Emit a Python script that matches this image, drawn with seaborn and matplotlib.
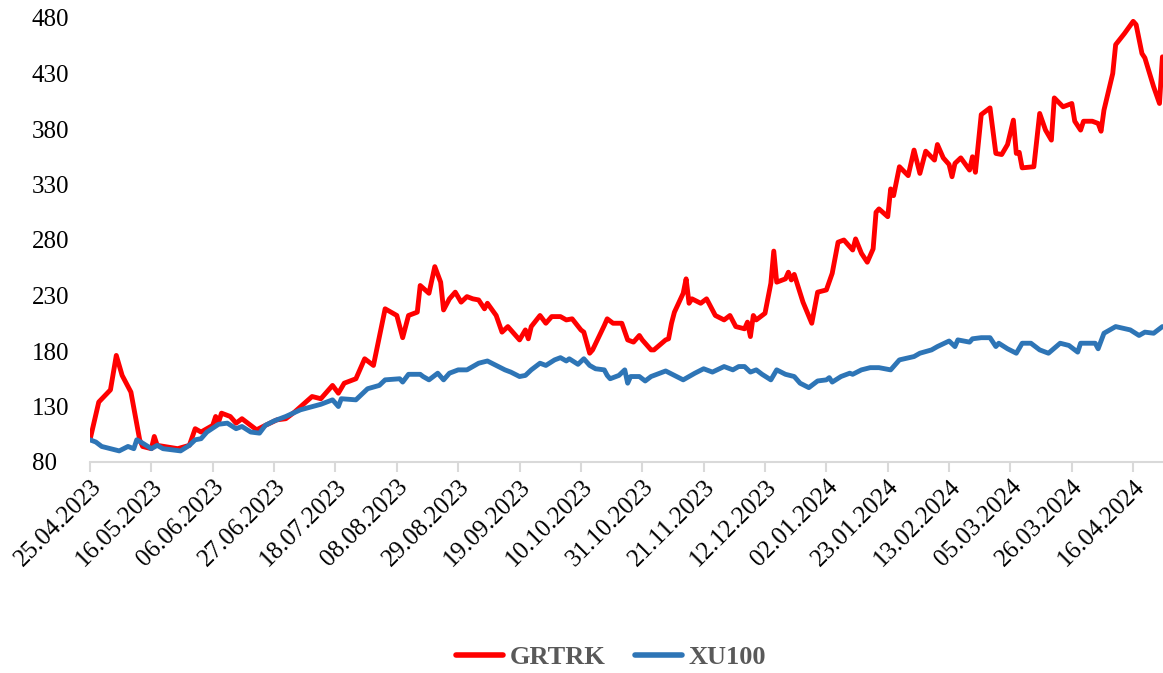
import pandas as pd
import matplotlib.pyplot as plt
import matplotlib.dates as mdates
import seaborn as sns

# --- Data (index, 25.04.2023 = 100) ---
START_DATE = '2023-04-25'

# day offsets from START_DATE and index values
GRTRK_DAYS = [0, 3, 7, 9, 11, 14, 17, 18, 21, 22, 23, 30, 34, 36, 38, 42, 43, 44, 45, 48,
              50, 52, 54, 57, 60, 64, 67, 70, 76, 79, 83, 85, 87, 91, 94, 97, 101, 105, 107, 109,
              112, 113, 116, 118, 120, 121, 123, 125, 127, 129, 131, 133, 135, 136, 139, 141, 143, 145, 147, 149,
              150, 151, 154, 156, 158, 161, 163, 165, 168, 169, 171, 172, 176, 177, 179, 182, 184, 186, 188, 189,
              192, 193, 197, 198, 199, 200, 203, 204, 205, 206, 209, 211, 214, 217, 219, 221, 224, 225, 226, 227,
              228, 231, 233, 234, 235, 238, 239, 240, 241, 244, 247, 249, 252, 254, 256, 258, 261, 262, 264, 266,
              268, 269, 270, 273, 274, 275, 277, 280, 282, 284, 286, 289, 290, 292, 294, 295, 296, 298, 301, 302,
              303, 305, 308, 310, 312, 314, 316, 317, 318, 319, 323, 325, 327, 329, 330, 333, 336, 337, 339, 340,
              343, 345, 346, 347, 350, 351, 354, 357, 358, 360, 361, 364, 366, 367]
GRTRK_VALUES = [100, 134, 145, 176, 158, 143, 100, 94, 92, 103, 95, 92, 95, 110, 107, 113, 121, 116, 124, 121,
                115, 119, 115, 109, 113, 118, 119, 125, 139, 137, 149, 142, 151, 155, 173, 167, 218, 212, 192, 212,
                215, 239, 232, 256, 242, 217, 227, 233, 224, 229, 227, 226, 218, 223, 212, 197, 202, 196, 190, 199,
                191, 202, 212, 205, 211, 211, 208, 209, 199, 197, 178, 181, 203, 209, 205, 205, 190, 188, 194, 190,
                181, 181, 190, 191, 205, 215, 232, 245, 223, 227, 223, 227, 212, 208, 212, 202, 200, 206, 193, 212,
                208, 214, 241, 270, 242, 245, 251, 244, 249, 224, 205, 233, 235, 250, 278, 280, 271, 281, 268, 260,
                272, 305, 308, 301, 326, 320, 346, 338, 361, 340, 360, 352, 366, 354, 348, 337, 349, 354, 343, 355,
                341, 393, 399, 358, 357, 366, 388, 358, 359, 345, 346, 394, 379, 370, 408, 400, 403, 387, 379, 387,
                387, 385, 378, 397, 430, 456, 466, 477, 474, 448, 444, 418, 403, 445]

XU100_DAYS = [0, 2, 4, 7, 10, 13, 15, 16, 18, 21, 23, 25, 28, 31, 34, 36, 38, 40, 44, 47,
              50, 52, 55, 58, 60, 63, 67, 72, 79, 83, 85, 86, 91, 95, 99, 101, 106, 107, 109, 113,
              114, 116, 119, 121, 123, 126, 129, 133, 136, 139, 142, 144, 147, 149, 151, 154, 156, 159, 161, 163,
              164, 167, 169, 171, 173, 176, 177, 178, 181, 183, 184, 185, 188, 190, 192, 196, 197, 200, 203, 207,
              210, 213, 217, 220, 222, 224, 226, 228, 230, 233, 235, 238, 241, 243, 246, 249, 252, 253, 254, 257,
              260, 261, 264, 267, 270, 274, 277, 282, 284, 288, 290, 294, 296, 297, 301, 302, 305, 308, 310, 311,
              314, 317, 319, 322, 325, 328, 332, 335, 338, 339, 344, 345, 347, 351, 356, 359, 361, 364, 367]
XU100_VALUES = [100, 98, 94, 92, 90, 94, 92, 100, 97, 92, 95, 92, 91, 90, 95, 100, 101, 107, 114, 115,
                110, 112, 107, 106, 113, 117, 121, 127, 132, 136, 130, 137, 136, 146, 149, 154, 155, 152, 159, 159,
                157, 154, 160, 154, 160, 163, 163, 169, 171, 167, 163, 161, 157, 158, 163, 169, 167, 172, 174, 171,
                173, 168, 173, 167, 164, 163, 158, 155, 158, 163, 151, 157, 157, 153, 157, 161, 162, 158, 154, 160,
                164, 161, 166, 163, 166, 166, 161, 163, 159, 154, 163, 159, 157, 151, 147, 153, 154, 156, 152, 157,
                160, 159, 163, 165, 165, 163, 172, 175, 178, 181, 184, 189, 184, 190, 188, 191, 192, 192, 184, 187,
                182, 178, 187, 187, 181, 178, 187, 185, 179, 187, 187, 182, 196, 202, 199, 194, 197, 196, 202]

SERIES_NAMES = ['GRTRK', 'XU100']
SERIES_COLORS = ['#FF0000', '#2E75B6']
Y_TICKS = [80, 130, 180, 230, 280, 330, 380, 430, 480]

# --- Build long-form table ---
start = pd.Timestamp(START_DATE)
frames = []
for name, days, vals in [('GRTRK', GRTRK_DAYS, GRTRK_VALUES), ('XU100', XU100_DAYS, XU100_VALUES)]:
    frames.append(pd.DataFrame({
        'Date': [start + pd.Timedelta(days=d) for d in days],
        'Value': vals,
        'Series': name,
    }))
df = pd.concat(frames, ignore_index=True)

# --- Plot ---
sns.set_theme(style='white')
plt.rcParams['font.family'] = ['Liberation Serif', 'DejaVu Serif']

fig = plt.figure(figsize=(11.63, 6.73), dpi=100)
ax = fig.add_axes([90 / 1163, 1 - 462 / 673, 1 - 90 / 1163, (462 - 18) / 673])

sns.lineplot(data=df, x='Date', y='Value', hue='Series', hue_order=SERIES_NAMES,
             palette=SERIES_COLORS, linewidth=3.5, estimator=None, sort=True, ax=ax,
             legend=False)

ax.set_xlim(start, start + pd.Timedelta(days=367.2))
ax.set_ylim(80, 480)
ax.set_yticks(Y_TICKS)

tick_dates = [start + pd.Timedelta(days=21 * i) for i in range(18)]
ax.set_xticks(tick_dates)
ax.xaxis.set_major_formatter(mdates.DateFormatter('%d.%m.%Y'))
plt.setp(ax.get_xticklabels(), rotation=45, ha='right', rotation_mode='anchor')

ax.set_xlabel('')
ax.set_ylabel('')
for side in ['top', 'right', 'left']:
    ax.spines[side].set_visible(False)
ax.spines['bottom'].set_color('#D9D9D9')
ax.spines['bottom'].set_linewidth(1.5)
ax.tick_params(axis='x', which='major', bottom=True, length=7, width=1.5, color='#D9D9D9',
               labelsize=18, labelcolor='black', pad=3)
# y labels sit left-aligned at about x=40 px in the reference
ax.tick_params(axis='y', left=False, labelsize=18, labelcolor='black', pad=36)
plt.setp(ax.get_yticklabels(), ha='left')

handles = [plt.Line2D([], [], color=c, linewidth=4, solid_capstyle='round') for c in SERIES_COLORS]
leg = fig.legend(handles, SERIES_NAMES, loc='center', bbox_to_anchor=(611 / 1163, 1 - 657 / 673),
                 ncol=2, frameon=False, handlelength=1.8, handletextpad=0.25, columnspacing=1.1,
                 prop={'family': 'Liberation Serif', 'weight': 'bold', 'size': 19})
for t in leg.get_texts():
    t.set_color('#595959')

fig.savefig('out.png', dpi=100)
